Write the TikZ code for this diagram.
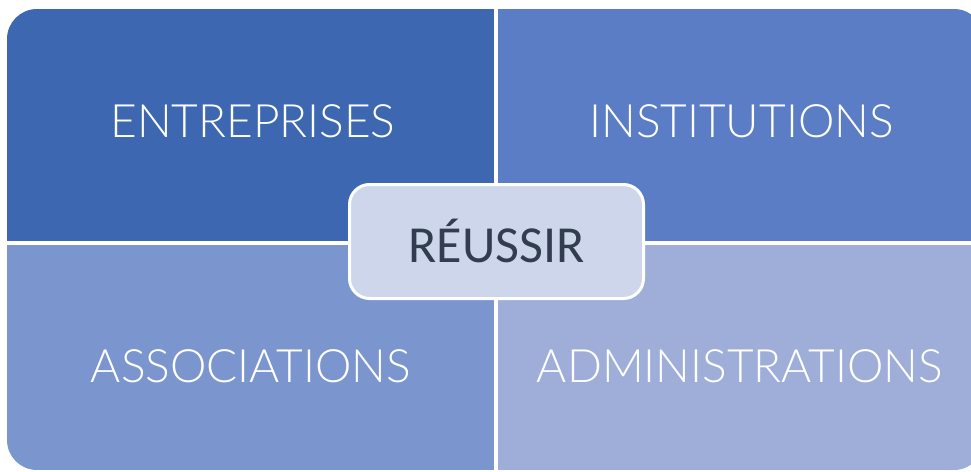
\documentclass[tikz,border=0pt]{standalone}
\usepackage{fontspec}
\setmainfont{Carlito}
\newfontfamily\thinfont{Lato Light}
\usetikzlibrary{positioning}
\usepackage{xcolor}

\definecolor{quadA}{HTML}{3D68B1}
\definecolor{quadB}{HTML}{5B7DC5}
\definecolor{quadC}{HTML}{7B95CE}
\definecolor{quadD}{HTML}{9EAED9}
\definecolor{hubfill}{HTML}{CED6EB}
\definecolor{hubtext}{HTML}{323E4F}

\begin{document}
\begin{tikzpicture}[x=1pt,y=-1pt,
  quadtext/.style={text=white,font=\thinfont\fontsize{46}{54}\selectfont,anchor=base,inner sep=0pt},
  hub/.style={draw=white,line width=3pt,fill=hubfill,rounded corners=20pt,
    minimum width=294pt,minimum height=114pt,inner sep=0pt,
    text=hubtext,font=\fontsize{52}{60}\selectfont,text height=41pt,text depth=0pt}]
\useasboundingbox (0,0) rectangle (971,471);

% the four quarters, cut to one rounded outline
\begin{scope}
\clip[rounded corners=30pt] (7,9) rectangle (984,470);
\fill[quadA] (7,9) rectangle (494,241);
\fill[quadB] (498,9) rectangle (984,241);
\fill[quadC] (7,245) rectangle (494,470);
\fill[quadD] (498,245) rectangle (984,470);
\end{scope}

\node[quadtext] (ent) at (253,137.5) {ENTREPRISES};
\node[quadtext] (inst) at (741.5,137.5) {INSTITUTIONS};
\node[quadtext] (assoc) at (251,382) {ASSOCIATIONS};
\node[quadtext] (admin) at (740,382) {ADMINISTRATIONS};

% centre
\node[hub] (reussir) at (496.5,241.5) {RÉUSSIR};
\end{tikzpicture}
\end{document}
